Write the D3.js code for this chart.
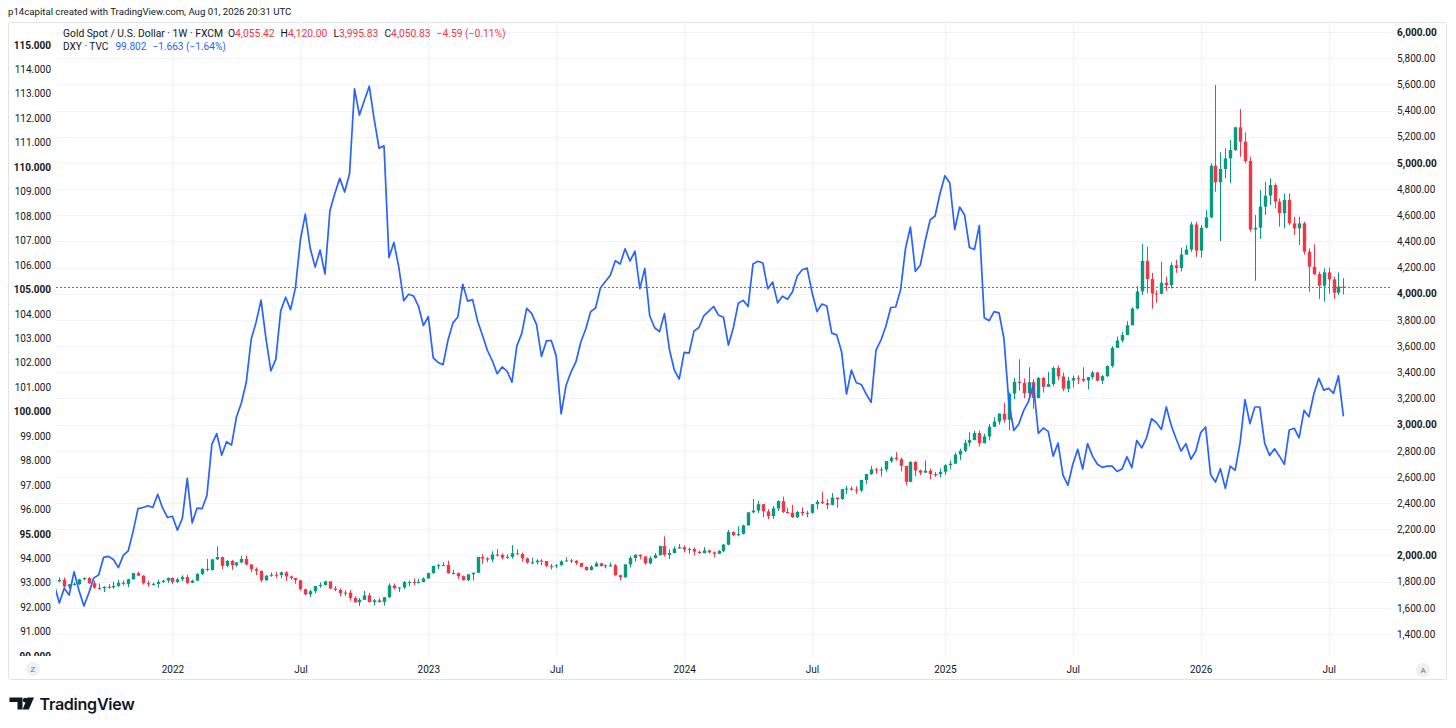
<!DOCTYPE html>
<html><head><meta charset="utf-8">
<script src="https://cdn.jsdelivr.net/npm/d3@7"></script>
<style>
html,body{margin:0;padding:0;background:#fff;}
svg{display:block;font-family:Roboto,"Noto Sans",sans-serif;}
</style></head><body>
<svg id="chart" width="1456" height="728"></svg>
<script>
// ---------------- DATA (weekly bars, first bar = week of 2021-07-19) ----------------
const firstWeek = "2021-07-19";
const goldFirstOpen = 1812;

const goldClose = [
// 2021
1802,1814,1763,1780,1781,1818,1827,1788,1754,1750,1761,1757,1768,1792,1783,1818,1865,1846,1788,1783,1783,1798,1808,1829,
// 2022
1797,1818,1835,1791,1808,1859,1898,1889,1970,1988,1921,1958,1925,1947,1974,1931,1896,1883,1811,1846,1853,1850,1871,1840,1827,1811,1742,1703,1727,1766,1775,1802,1747,1737,1712,1716,1675,1643,1661,1695,1644,1657,1645,1681,1771,1751,1755,1797,1797,1793,1798,1824,
// 2023
1865,1920,1926,1928,1865,1865,1842,1811,1856,1868,1989,1978,1969,2008,2004,1983,1990,2017,2011,1978,1946,1948,1961,1958,1921,1919,1925,1955,1962,1959,1943,1913,1889,1915,1940,1919,1924,1925,1849,1833,1932,1981,2006,1993,1940,1980,2002,2072,2005,2019,2053,2063,
// 2024
2045,2049,2029,2018,2039,2024,2013,2035,2083,2179,2155,2165,2230,2330,2344,2392,2337,2301,2360,2415,2333,2327,2293,2333,2321,2326,2392,2411,2400,2387,2443,2431,2507,2512,2503,2497,2577,2622,2658,2653,2657,2721,2747,2736,2685,2563,2715,2650,2633,2648,2622,2621,
// 2025
2640,2690,2702,2771,2800,2861,2883,2936,2858,2910,2984,3023,3084,3037,3237,3327,3319,3240,3325,3204,3357,3289,3310,3433,3368,3274,3337,3355,3350,3337,3363,3398,3336,3371,3448,3587,3643,3685,3760,3887,4018,4251,4113,4002,4000,4085,4065,4218,4197,4300,4338,4530,
// 2026
4330,4505,4584,4979,4852,4954,5035,5099,5272,5163,5015,4492,4505,4666,4750,4831,4704,4615,4717,4538,4500,4538,4322,4207,4151,4062,4164,4110,4008,4055.42,4050.83
];

const goldHigh = [
1834,1832,1832,1782,1795,1821,1834,1834,1808,1787,1764,1781,1800,1814,1810,1823,1868,1877,1848,1808,1793,1815,1813,1831,
1832,1830,1848,1853,1815,1865,1902,1974,1974,2070,1990,1966,1966,1950,1998,1998,1935,1909,1884,1850,1870,1874,1878,1879,1847,1830,1813,1746,1739,1767,1795,1807,1802,1765,1749,1735,1735,1688,1675,1729,1714,1668,1674,1682,1787,1786,1760,1805,1810,1824,1823,1833,
1868,1922,1937,1949,1960,1890,1870,1847,1858,1870,1990,2010,1987,2032,2049,2015,2009,2079,2048,2022,1985,1983,1971,1972,1958,1935,1934,1963,1987,1973,1965,1934,1916,1925,1953,1945,1933,1947,1935,1853,1933,1997,2009,2007,1993,1994,2018,2075,2146,2047,2071,2088,
2078,2062,2062,2036,2065,2044,2031,2041,2088,2195,2185,2223,2236,2331,2432,2418,2392,2354,2378,2422,2450,2364,2388,2340,2368,2340,2393,2424,2484,2432,2477,2433,2509,2531,2529,2529,2579,2625,2685,2670,2675,2722,2758,2790,2750,2684,2721,2721,2657,2726,2664,2639,
2665,2697,2726,2786,2817,2886,2942,2955,2956,2930,3005,3057,3087,3168,3245,3357,3500,3352,3438,3347,3366,3365,3403,3446,3452,3398,3366,3375,3377,3439,3363,3409,3404,3379,3453,3600,3674,3707,3791,3897,4059,4380,4359,4160,4028,4245,4132,4240,4260,4353,4375,4550,
4550,4525,4640,4997,5596,5081,5112,5175,5277,5412,5234,5048,4602,4793,4857,4882,4844,4729,4767,4767,4589,4589,4551,4347,4378,4169,4194,4200,4131,4164,4120
];

const goldLow = [
1789,1795,1753,1745,1771,1774,1810,1782,1745,1737,1721,1746,1745,1760,1770,1758,1816,1843,1778,1762,1770,1753,1789,1790,
1782,1788,1805,1780,1788,1807,1850,1878,1885,1967,1895,1910,1890,1915,1940,1925,1872,1850,1797,1807,1837,1828,1825,1805,1816,1784,1732,1697,1681,1711,1754,1770,1745,1727,1688,1691,1654,1639,1614,1659,1640,1618,1638,1617,1676,1740,1721,1744,1765,1774,1785,1795,
1824,1862,1896,1918,1861,1855,1819,1809,1804,1809,1867,1934,1949,1950,1992,1970,1975,1976,2006,1952,1937,1932,1932,1925,1910,1893,1903,1923,1952,1942,1929,1912,1885,1885,1913,1915,1901,1913,1846,1810,1830,1908,1953,1970,1931,1932,1977,2001,1993,1973,2016,2052,
2024,2013,2002,2010,2016,2015,1984,2010,2025,2078,2146,2146,2160,2228,2322,2324,2291,2277,2280,2340,2325,2321,2287,2286,2303,2293,2318,2353,2394,2353,2383,2364,2425,2470,2495,2472,2484,2546,2615,2625,2604,2641,2708,2725,2643,2536,2560,2605,2614,2632,2583,2601,
2596,2615,2657,2700,2730,2789,2832,2880,2832,2857,2880,2982,3000,3015,2957,3194,3260,3202,3202,3121,3200,3245,3291,3294,3340,3255,3247,3283,3310,3325,3268,3347,3330,3311,3364,3436,3586,3628,3683,3758,3880,3990,4004,3886,3931,3996,4022,4040,4160,4170,4300,4320,
4280,4276,4500,4577,4780,4403,4882,4844,5091,5047,4997,4475,4100,4419,4602,4679,4653,4513,4500,4525,4449,4373,4300,4016,4143,3960,3940,4000,3960,3990,3995.83
];

const dxyClose = [
// 2021
92.90,92.17,92.78,92.50,93.45,92.68,92.05,92.58,93.20,93.32,94.04,94.08,93.95,93.62,94.12,94.30,95.10,96.03,96.08,96.15,96.08,96.62,96.05,95.67,
// 2022
95.72,95.15,95.63,97.27,95.45,96.05,96.03,96.57,98.66,99.10,98.22,98.77,98.63,99.78,100.35,101.20,102.96,103.66,104.56,103.00,101.67,102.14,104.12,104.68,104.17,105.07,107.03,108.08,106.68,105.91,106.61,105.63,108.22,108.92,109.54,108.98,109.75,113.20,112.13,112.73,113.31,111.95,110.77,110.87,106.30,106.92,105.91,104.54,104.80,104.73,104.31,103.52,
// 2023
103.89,102.20,102.01,101.92,102.92,103.63,103.87,105.21,104.52,104.58,103.72,103.12,102.51,102.09,101.55,101.83,101.66,101.21,102.69,103.20,104.22,104.02,103.56,102.26,102.89,102.91,102.27,99.91,101.07,101.62,102.03,102.85,103.38,104.09,104.24,105.07,105.32,105.58,106.17,106.04,106.66,106.16,106.56,105.03,105.86,103.92,103.43,103.27,104.01,102.55,101.70,101.33,
// 2024
102.42,102.39,103.29,103.44,103.92,104.11,104.30,103.94,103.86,102.72,103.43,104.43,104.55,104.30,106.04,106.15,106.08,105.03,105.30,104.45,104.72,104.60,104.89,105.55,105.80,105.87,104.88,104.09,104.40,104.32,103.21,103.14,102.45,100.72,101.70,101.18,101.11,100.72,100.38,102.52,102.92,103.49,104.26,104.28,104.99,106.68,107.55,105.74,105.99,106.99,107.84,108.00,
// 2025
108.91,109.65,109.35,107.45,108.37,108.04,106.71,106.63,107.61,103.84,103.72,104.09,104.04,102.99,100.40,99.23,99.48,100.04,100.42,101.09,99.11,99.33,99.19,98.18,98.71,97.40,96.99,97.85,98.46,97.65,98.69,98.18,97.85,97.72,97.77,97.77,97.55,97.65,98.15,97.71,98.82,98.52,98.93,99.71,99.55,99.27,100.19,99.44,98.89,98.39,98.69,98.05,
// 2026
98.39,99.14,99.37,97.43,97.12,97.66,96.86,97.77,97.60,98.73,100.49,99.51,100.19,100.19,98.70,98.21,98.48,98.18,97.84,99.25,99.32,98.93,100.05,99.79,100.73,101.36,100.88,100.95,100.75,101.465,99.802
];

const leftTicks  = [90,91,92,93,94,95,96,97,98,99,100,101,102,103,104,105,106,107,108,109,110,111,112,113,114,115];
const rightTicks = [1400,1600,1800,2000,2200,2400,2600,2800,3000,3200,3400,3600,3800,4000,4200,4400,4600,4800,5000,5200,5400,5600,5800,6000];
const xTickDates  = ["2022-01-03","2022-07-04","2023-01-02","2023-07-03","2024-01-01","2024-07-01","2025-01-06","2025-07-07","2026-01-05","2026-07-06"];
const xTickLabels = ["2022","Jul","2023","Jul","2024","Jul","2025","Jul","2026","Jul"];

const headerText = "p14capital created with TradingView.com, Aug 01, 2026 20:31 UTC";
const goldName = "Gold Spot / U.S. Dollar · 1W · FXCM";
const dxyName = "DXY · TVC";

// ---------------- STYLE ----------------
const UP = "#089981", DOWN = "#F23645", BLUE = "#2962FF", TXT = "#131722", GRID = "#f0f3fa";
const plot = {l:56, r:1392, t:22, b:657};

const svg = d3.select("#chart");
const parse = d3.utcParse("%Y-%m-%d");
const start = parse(firstWeek);
const dates = goldClose.map((_, i) => d3.utcDay.offset(start, 7 * i));

const x = d3.scaleUtc().domain([dates[0], dates[dates.length - 1]]).range([54.4, 1343.4]);
const yGold = d3.scaleLinear().domain([1400, 6000]).range([634, 32.1]);
const yDxy = d3.scaleLinear().domain([90, 115]).range([656.1, 44.9]);

const defs = svg.append("defs");
defs.append("clipPath").attr("id", "plotClip").append("rect")
  .attr("x", plot.l).attr("y", plot.t).attr("width", plot.r - plot.l).attr("height", plot.b - plot.t);
defs.append("clipPath").attr("id", "leftClip").append("rect")
  .attr("x", 0).attr("y", plot.t).attr("width", plot.l).attr("height", plot.b - plot.t - 1);

// header
svg.append("text").attr("id", "hdr").attr("x", 8).attr("y", 14.5)
  .attr("fill", TXT).attr("font-size", 10).text(headerText);

// frame
svg.append("rect").attr("x", 8.5).attr("y", 22.5).attr("width", 1438).attr("height", 657)
  .attr("fill", "none").attr("stroke", "#e0e3eb").attr("rx", 2);

// grid
const xTicks = xTickDates.map(parse);
svg.append("g").selectAll("line").data(rightTicks).join("line")
  .attr("x1", plot.l).attr("x2", plot.r)
  .attr("y1", d => Math.round(yGold(d)) + 0.5).attr("y2", d => Math.round(yGold(d)) + 0.5)
  .attr("stroke", GRID).attr("stroke-width", 1);
svg.append("g").selectAll("line").data(xTicks).join("line")
  .attr("x1", d => Math.round(x(d)) + 0.5).attr("x2", d => Math.round(x(d)) + 0.5)
  .attr("y1", plot.t).attr("y2", plot.b)
  .attr("stroke", GRID).attr("stroke-width", 1);

// candles
const bars = dates.map((d, i) => ({
  d, o: i === 0 ? goldFirstOpen : goldClose[i - 1], h: goldHigh[i], l: goldLow[i], c: goldClose[i]
}));
const gC = svg.append("g").attr("clip-path", "url(#plotClip)");
gC.selectAll("line").data(bars).join("line")
  .attr("x1", b => Math.round(x(b.d)) + 0.5).attr("x2", b => Math.round(x(b.d)) + 0.5)
  .attr("y1", b => yGold(b.h)).attr("y2", b => yGold(b.l))
  .attr("stroke", b => b.c >= b.o ? UP : DOWN).attr("stroke-width", 1);
gC.selectAll("rect").data(bars).join("rect")
  .attr("x", b => Math.round(x(b.d)) - 1.2).attr("width", 3.4)
  .attr("y", b => Math.min(yGold(b.o), yGold(b.c)))
  .attr("height", b => Math.max(1, Math.abs(yGold(b.o) - yGold(b.c))))
  .attr("fill", b => b.c >= b.o ? UP : DOWN);

// last price dotted line
const lastGold = goldClose[goldClose.length - 1];
svg.append("line").attr("x1", plot.l).attr("x2", plot.r)
  .attr("y1", Math.round(yGold(lastGold)) + 0.5).attr("y2", Math.round(yGold(lastGold)) + 0.5)
  .attr("stroke", DOWN).attr("stroke-width", 1).attr("stroke-dasharray", "2,2");

// DXY line
const line = d3.line().x((v, i) => x(dates[i])).y(v => yDxy(v));
svg.append("g").attr("clip-path", "url(#plotClip)").append("path")
  .datum(dxyClose).attr("d", line).attr("fill", "none")
  .attr("stroke", BLUE).attr("stroke-width", 1.7).attr("stroke-linejoin", "round");

// axes
const gL = svg.append("g").attr("clip-path", "url(#leftClip)")
  .append("g").attr("transform", "translate(51,0)")
  .call(d3.axisLeft(yDxy).tickValues(leftTicks).tickFormat(d3.format(".3f")).tickSize(0).tickPadding(0));
const gR = svg.append("g").attr("transform", "translate(1397,0)")
  .call(d3.axisRight(yGold).tickValues(rightTicks).tickFormat(d3.format(",.2f")).tickSize(0).tickPadding(0));
const gX = svg.append("g").attr("transform", "translate(0,669)")
  .call(d3.axisBottom(x).tickValues(xTicks).tickFormat((d, i) => xTickLabels[i]).tickSize(0).tickPadding(0));
[gL, gR, gX].forEach(g => {
  g.select(".domain").remove();
  g.selectAll("text").attr("fill", TXT).attr("font-size", 10)
    .attr("font-family", 'Roboto,"Noto Sans",sans-serif');
});
gX.selectAll("text").attr("dy", "0.35em");
gL.selectAll("text").attr("font-weight", d => d % 5 === 0 ? 700 : 400);
gR.selectAll("text").attr("font-weight", d => d % 1000 === 0 ? 700 : 400);

// Z / A buttons
[[33, 669, "Z"], [1423, 670, "A"]].forEach(([cx, cy, t]) => {
  svg.append("circle").attr("cx", cx).attr("cy", cy).attr("r", 7).attr("fill", "#eef0f3");
  svg.append("text").attr("x", cx).attr("y", cy).attr("dy", "0.35em").attr("text-anchor", "middle")
    .attr("font-size", 8).attr("fill", "#6a6d78").text(t);
});

// legend
const f2 = d3.format(",.2f"), f3 = d3.format(".3f");
const n = goldClose.length;
const gO = goldClose[n - 2], gH = goldHigh[n - 1], gLo = goldLow[n - 1], gCl = goldClose[n - 1];
const gChg = gCl - goldClose[n - 2];
const dChg = dxyClose[n - 1] - dxyClose[n - 2];
const leg1 = svg.append("text").attr("id", "leg1").attr("x", 63).attr("y", 36.5).attr("font-size", 10);
leg1.append("tspan").attr("fill", TXT).text(goldName);
[["O", gO], ["H", gH], ["L", gLo], ["C", gCl]].forEach(([k, v], j) => {
  leg1.append("tspan").attr("fill", TXT).attr("dx", j === 0 ? 5 : 6).text(k);
  leg1.append("tspan").attr("fill", DOWN).text(f2(v));
});
leg1.append("tspan").attr("fill", DOWN).attr("dx", 6)
  .text(f2(gChg) + " (" + f2(gChg / goldClose[n - 2] * 100) + "%)");
const leg2 = svg.append("text").attr("id", "leg2").attr("x", 63).attr("y", 49.5).attr("font-size", 10);
leg2.append("tspan").attr("fill", TXT).text(dxyName);
leg2.append("tspan").attr("fill", BLUE).attr("dx", 7).text(f3(dxyClose[n - 1]));
leg2.append("tspan").attr("fill", BLUE).attr("dx", 6)
  .text(f3(dChg) + " (" + f2(dChg / dxyClose[n - 2] * 100) + "%)");

// fit text widths to the reference layout
function fit(sel, target) {
  const w = sel.node().getComputedTextLength();
  const fs = parseFloat(sel.attr("font-size"));
  if (w > 0) sel.attr("font-size", (fs * target / w).toFixed(2));
}
fit(d3.select("#hdr"), 284);
fit(leg1, 414);
fit(leg2, 150);

// TradingView logo
const logo = svg.append("g").attr("fill", "#131722");
logo.append("path").attr("d", "M9.5 697.5 H22.5 V709.5 H17.5 V702 H9.5 Z");
logo.append("circle").attr("cx", 25.3).attr("cy", 700.2).attr("r", 2.4);
logo.append("path").attr("d", "M27.5 697.5 H34 L28.8 709.5 H22.6 Z");
const lt = logo.append("text").attr("x", 39.5).attr("y", 709.5).attr("font-family", "Inter,Roboto,sans-serif")
  .attr("font-weight", 600).attr("font-size", 16).attr("letter-spacing", -0.3).text("TradingView");
fit(lt, 95);
</script>
</body></html>
